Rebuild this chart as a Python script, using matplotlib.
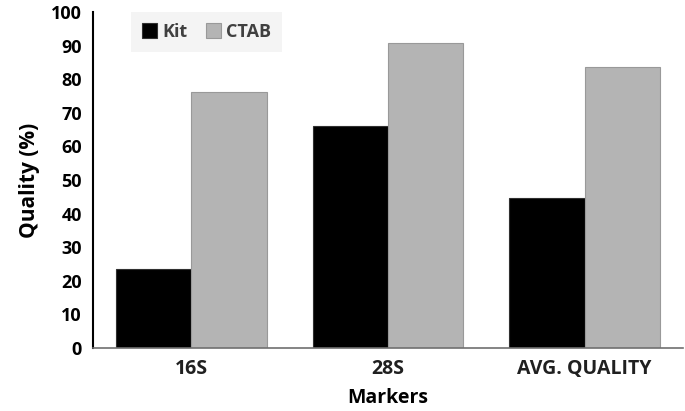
import numpy as np
import matplotlib.pyplot as plt

plt.rcParams['font.family'] = ['Open Sans', 'DejaVu Sans']
plt.rcParams['font.weight'] = 'bold'

markers = ['16S', '28S', 'AVG. QUALITY']
kit = [23.5, 66.0, 44.7]
ctab = [76.2, 90.8, 83.5]

fig = plt.figure(figsize=(6.85, 4.11), dpi=100)
ax = fig.add_axes([0.136, 0.153, 0.861, 0.818])

x = np.arange(len(markers))
w = 0.383
ax.bar(x - w / 2, kit, w, color='black', edgecolor='#303030', linewidth=0.8, label='Kit')
ax.bar(x + w / 2, ctab, w, color='#b4b4b4', edgecolor='#999999', linewidth=0.8, label='CTAB')

ax.set_xlim(-0.5, 2.5)
ax.set_ylim(0, 100)
ax.set_yticks(range(0, 101, 10))
ax.set_xticks(x)
ax.set_xticklabels(markers, fontsize=14, fontweight='bold', color='#202020')
ax.tick_params(axis='y', labelsize=13, length=0, pad=8)
ax.tick_params(axis='x', length=0, pad=8)
for t in ax.get_yticklabels():
    t.set_fontweight('bold')

ax.spines['top'].set_visible(False)
ax.spines['right'].set_visible(False)
ax.spines['left'].set_linewidth(1.5)
ax.spines['left'].set_color('black')
ax.spines['bottom'].set_color('#707070')
ax.spines['bottom'].set_linewidth(1.2)

ax.set_ylabel('Quality (%)', fontsize=15, fontweight='bold', labelpad=8)
ax.set_xlabel('Markers', fontsize=14, fontweight='bold', labelpad=6)

leg = ax.legend(loc='upper left', bbox_to_anchor=(0.065, 1.0), borderaxespad=0,
                ncol=2, frameon=True, fontsize=13, handlelength=0.83, handleheight=0.83,
                handletextpad=0.3, columnspacing=1.0, borderpad=0.6, fancybox=False)
leg.get_frame().set_facecolor('#f2f2f2')
leg.get_frame().set_edgecolor('none')
for t in leg.get_texts():
    t.set_color('#404040')

fig.savefig('out.png', dpi=100)
